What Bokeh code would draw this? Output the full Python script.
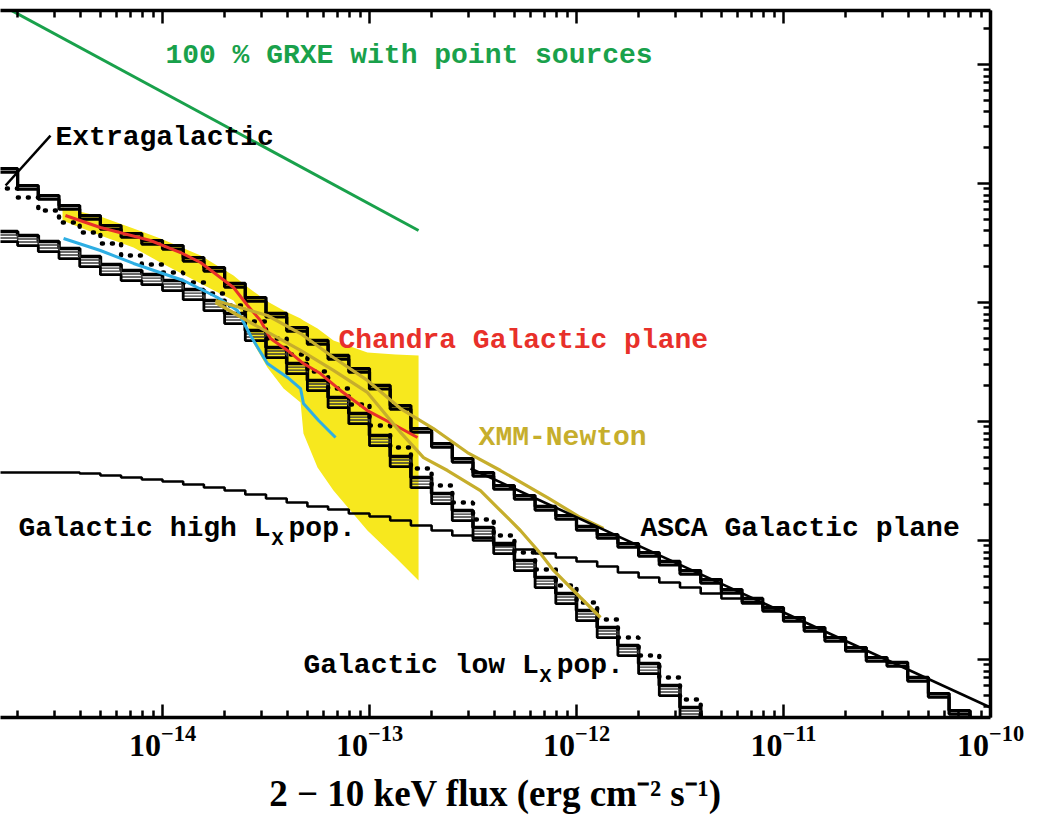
import numpy as np
from bokeh.plotting import figure
from bokeh.models import LogAxis, FixedTicker, Label, Range1d
from bokeh.embed import file_html
from bokeh.resources import INLINE

# ---------------- data (log10 values) ----------------
# lower edges of the 0.1-dex flux bins of the model histograms
bin_log_flux = [round(-14.8 + 0.1 * i, 1) for i in range(48)]

# total model (extragalactic + Galactic), upper thick staircase
total_logN = [2.126, 1.983, 1.899, 1.815, 1.731, 1.647, 1.580, 1.521, 1.479, 1.378,
              1.294, 1.160, 1.042, 0.908, 0.790, 0.681, 0.555, 0.445, 0.303, 0.134,
              -0.059, -0.185, -0.311, -0.429, -0.538, -0.622, -0.714, -0.790, -0.882, -0.950,
              -1.025, -1.101, -1.176, -1.252, -1.328, -1.412, -1.487, -1.563, -1.647, -1.731,
              -1.815, -1.899, -1.983, -2.025, -2.151, -2.286, -2.429, -2.513]
# model dotted staircase
dotted_logN = [1.958, 1.882, 1.773, 1.672, 1.588, 1.496, 1.395, 1.319, 1.252, 1.168,
               1.076, 0.975, 0.840, 0.697, 0.563, 0.420, 0.277, 0.143, -0.034, -0.218,
               -0.395, -0.538, -0.681, -0.824, -0.958, -1.101, -1.244, -1.378, -1.521, -1.664,
               -1.815, -1.966, -2.151, -2.336, -2.529]
# Galactic low Lx population (hatched band, upper edge)
low_lx_logN = [1.597, 1.563, 1.513, 1.454, 1.387, 1.319, 1.269, 1.235, 1.185, 1.109,
               1.017, 0.908, 0.765, 0.622, 0.487, 0.345, 0.202, 0.067, -0.118, -0.294,
               -0.471, -0.605, -0.748, -0.891, -1.025, -1.168, -1.311, -1.445, -1.588, -1.731,
               -1.882, -2.034, -2.218, -2.403, -2.597]
low_lx_spread = 0.085
# Galactic high Lx population
high_lx_logN = [-0.429, -0.429, -0.429, -0.429, -0.437, -0.454, -0.471, -0.487, -0.504, -0.529,
                -0.555, -0.580, -0.613, -0.647, -0.681, -0.714, -0.739, -0.773, -0.798, -0.832,
                -0.874, -0.916, -0.958, -1.000, -1.042, -1.076, -1.109, -1.143, -1.176, -1.218,
                -1.269, -1.311, -1.353, -1.395, -1.445, -1.487, -1.529, -1.571, -1.647, -1.731,
                -1.815, -1.899, -1.983, -2.025, -2.151, -2.286, -2.429, -2.513]

# Chandra Galactic plane (red) and its uncertainty (yellow)
chandra_log_flux = [-14.469, -14.300, -14.058, -13.913, -13.816, -13.657, -13.589, -13.527,
                    -13.478, -13.396, -13.319, -13.237, -13.140, -13.010, -12.874, -12.768]
chandra_logN = [1.731, 1.630, 1.521, 1.420, 1.336, 1.126, 0.975, 0.849,
                0.697, 0.597, 0.487, 0.403, 0.261, 0.092, -0.034, -0.134]
band_log_flux = [-14.483, -14.300, -14.140, -14.010, -13.816, -13.657, -13.599, -13.560, -13.493,
                 -13.415, -13.333, -13.319, -13.251, -13.174, -13.010, -12.874, -12.763]
band_upper_logN = [1.798, 1.723, 1.622, 1.538, 1.395, 1.227, 1.143, 1.092, 1.008,
                   0.933, 0.866, 0.849, 0.782, 0.681, 0.580, 0.563, 0.555]
band_lower_logN = [1.689, 1.563, 1.462, 1.336, 1.160, 1.017, 0.866, 0.655, 0.454,
                   0.277, 0.160, -0.101, -0.387, -0.580, -0.916, -1.143, -1.336]
# second (blue) deep-field curve
blue_log_flux = [-14.478, -14.300, -14.140, -13.899, -13.734, -13.638, -13.575, -13.493,
                 -13.396, -13.333, -13.319, -13.246, -13.164]
blue_logN = [1.538, 1.437, 1.328, 1.185, 1.042, 0.933, 0.723, 0.487,
             0.370, 0.277, 0.151, 0.008, -0.134]
# XMM-Newton (two curves)
xmm_hi_log_flux = [-13.744, -13.493, -13.333, -13.174, -13.010, -12.850, -12.691, -12.527,
                   -12.367, -12.140, -11.981, -11.870]
xmm_hi_logN = [1.017, 0.891, 0.739, 0.538, 0.345, 0.109, -0.059, -0.261,
               -0.412, -0.639, -0.807, -0.899]
xmm_lo_log_flux = [-13.744, -13.575, -13.333, -13.174, -13.010, -12.850, -12.739, -12.623,
                   -12.464, -12.382, -12.271, -12.174, -12.111, -11.981, -11.884]
xmm_lo_logN = [1.000, 0.832, 0.597, 0.429, 0.244, -0.092, -0.303, -0.412,
               -0.580, -0.723, -0.916, -1.109, -1.252, -1.479, -1.647]
# ASCA Galactic plane power law
asca_log_flux = [-12.512, -10.0]
asca_logN = [-0.395, -2.403]
# 100 % GRXE with point sources
grxe_log_flux = [-14.80, -12.763]
grxe_logN = [3.520, 1.605]
# pointer to the extragalactic curve
pointer_log_flux = [-14.758, -14.541]
pointer_logN = [1.983, 2.403]

# ---------------- figure ----------------
x_lo, x_hi = -14.7826, -10.0
y_lo, y_hi = -2.4874, 3.4538

p = figure(width=1037, height=822, x_axis_type="log", y_axis_type="log",
           x_range=Range1d(10 ** x_lo, 10 ** x_hi), y_range=Range1d(10 ** y_lo, 10 ** y_hi),
           y_axis_location="right", output_backend="svg", toolbar_location=None,
           min_border_left=0, min_border_right=47, min_border_top=10, min_border_bottom=105)
p.outline_line_color = None
p.grid.visible = False
p.background_fill_color = "white"
p.border_fill_color = "white"

bottom_axis = p.below[0]
right_axis = p.right[0]


def exp10(a):
    return [10.0 ** v for v in a]


def step_xy(logN, offset=0.0):
    n = len(logN)
    xs = exp10(bin_log_flux[:n] + [round(bin_log_flux[n - 1] + 0.1, 1)])
    ys = [10.0 ** (v + offset) for v in logN + [logN[-1]]]
    return xs, ys


# yellow Chandra uncertainty band
p.varea(x=exp10(band_log_flux), y1=exp10(band_lower_logN), y2=exp10(band_upper_logN),
        fill_color="#f7e81e")

# Galactic high Lx
xs, ys = step_xy(high_lx_logN)
p.step(xs, ys, mode="after", line_color="black", line_width=2.6)

# Galactic low Lx hatched band
for off, w, c in [(0.0, 3.6, "black"), (-0.03, 1.4, "#3a3a3a"), (-0.055, 1.4, "#3a3a3a"),
                  (-low_lx_spread, 2.8, "black")]:
    xs, ys = step_xy(low_lx_logN, off)
    p.step(xs, ys, mode="after", line_color=c, line_width=w)

# dotted model
xs, ys = step_xy(dotted_logN)
p.step(xs, ys, mode="after", line_color="black", line_width=4.5, line_dash="1 9", line_cap="round")

# total model (thick double staircase)
for off in (0.0, -0.03):
    xs, ys = step_xy(total_logN, off)
    p.step(xs, ys, mode="after", line_color="black", line_width=3.2)

# observed curves
p.line(exp10(chandra_log_flux), exp10(chandra_logN), line_color="#e8302a", line_width=3)
p.line(exp10(blue_log_flux), exp10(blue_logN), line_color="#2eaee3", line_width=3)
p.line(exp10(xmm_hi_log_flux), exp10(xmm_hi_logN), line_color="#c6ae2c", line_width=3.2)
p.line(exp10(xmm_lo_log_flux), exp10(xmm_lo_logN), line_color="#c6ae2c", line_width=3.2)
p.line(exp10(asca_log_flux), exp10(asca_logN), line_color="black", line_width=2.6)
p.line(exp10(grxe_log_flux), exp10(grxe_logN), line_color="#19a14b", line_width=3)
p.line(exp10(pointer_log_flux), exp10(pointer_logN), line_color="black", line_width=2.5)

# ---------------- axes ----------------
x_major = [10.0 ** n for n in range(-15, -9)]
x_minor = [k * 10.0 ** n for n in range(-16, -10) for k in range(2, 10)]
y_major = [10.0 ** n for n in range(-3, 5)]
y_minor = [k * 10.0 ** n for n in range(-4, 4) for k in range(2, 10)]

top_axis = LogAxis()
p.add_layout(top_axis, "above")

for ax in [bottom_axis, top_axis]:
    ax.ticker = FixedTicker(ticks=x_major, minor_ticks=x_minor)
right_axis.ticker = FixedTicker(ticks=y_major, minor_ticks=y_minor)

for ax in [bottom_axis, top_axis, right_axis]:
    ax.major_tick_in = 13
    ax.major_tick_out = 0
    ax.minor_tick_in = 7
    ax.minor_tick_out = 0
    ax.major_tick_line_width = 2.5
    ax.minor_tick_line_width = 2.5
    ax.major_tick_line_color = "black"
    ax.minor_tick_line_color = "black"
    ax.axis_line_width = 3.5
    ax.axis_line_color = "black"

for ax in [top_axis, right_axis]:
    ax.major_label_text_font_size = "1px"
    ax.major_label_text_alpha = 0.0
    ax.major_label_standoff = 0

bottom_axis.major_label_text_font = "Liberation Serif"
bottom_axis.major_label_text_font_style = "bold"
bottom_axis.major_label_text_font_size = "32px"
bottom_axis.major_label_text_color = "black"
bottom_axis.major_label_standoff = 8
bottom_axis.axis_label = "2 \u2212 10 keV flux (erg cm\u207b\u00b2 s\u207b\u00b9)"
bottom_axis.axis_label_text_font = "Liberation Serif"
bottom_axis.axis_label_text_font_style = "bold"
bottom_axis.axis_label_text_font_size = "37px"
bottom_axis.axis_label_text_color = "black"
bottom_axis.axis_label_standoff = 14

# ---------------- text labels ----------------
FONT = "Liberation Mono"
FS = "28px"


def add_label(lx, ly, text, color="black", size=FS):
    p.add_layout(Label(x=10 ** lx, y=10 ** ly, text=text, text_color=color,
                       text_font=FONT, text_font_style="bold", text_font_size=size,
                       text_baseline="middle", text_align="left"))


add_label(-13.986, 3.076, "100 % GRXE with point sources", "#19a14b")
add_label(-14.517, 2.387, "Extragalactic")
add_label(-13.150, 0.681, "Chandra Galactic plane", "#e8302a")
add_label(-12.473, -0.134, "XMM-Newton", "#c6ae2c")
add_label(-11.691, -0.899, "ASCA Galactic plane")

add_label(-14.696, -0.899, "Galactic high L")
add_label(-13.473, -0.990, "X", size="20px")
add_label(-13.391, -0.899, "pop.")

add_label(-13.319, -2.050, "Galactic low L")
add_label(-12.179, -2.141, "X", size="20px")
add_label(-12.096, -2.050, "pop.")

open("out.html", "w").write(file_html(p, INLINE))
